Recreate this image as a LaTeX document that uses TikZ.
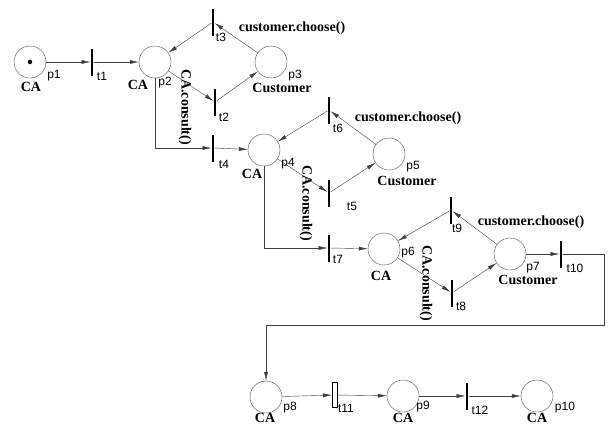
\documentclass[tikz,border=0pt]{standalone}
\usepackage{fontspec}
\setmainfont{Liberation Serif}
\newfontfamily\labfont{Liberation Sans}
\usetikzlibrary{arrows.meta}

\begin{document}
\begin{tikzpicture}[x=1pt,y=-1pt,
  place/.style={circle,draw=black!70,minimum size=32pt,inner sep=0pt},
  bar/.style={fill=black,minimum width=2.6pt,minimum height=27pt,inner sep=0pt},
  hbar/.style={draw,fill=white,line width=1pt,minimum width=5pt,minimum height=25pt,inner sep=0pt},
  arc/.style={draw=black!75,-{Latex[length=9pt,width=4pt]}},
  role/.style={font=\fontsize{14}{16}\selectfont\bfseries,inner sep=0pt},
  tag/.style={font=\labfont\fontsize{12}{14}\selectfont,inner sep=0pt}]
\useasboundingbox (0,0) rectangle (608,426);
\node[place] (p1) at (30,62) {};
\node[circle,fill,inner sep=1.6pt] (tok) at (p1) {};
\node[bar] (t1) at (92,62) {};
\node[place] (p2) at (155,62) {};
\node[bar] (t3) at (213,22) {};
\node[bar] (t2) at (215,102) {};
\node[place] (p3) at (271,62) {};
\node[bar] (t4) at (213,148) {};
\node[place] (p4) at (264,150) {};
\node[bar] (t6) at (329,110) {};
\node[bar] (t5) at (329,193) {};
\node[place] (p5) at (389,154) {};
\node[bar] (t7) at (329,248) {};
\node[place] (p6) at (384,249) {};
\node[bar] (t9) at (451,210) {};
\node[bar] (t8) at (452,293) {};
\node[place] (p7) at (510,254) {};
\node[bar] (t10) at (561,254) {};
\coordinate (turn) at (604,325);
\node[place] (p8) at (266,397) {};
\node[hbar] (t11) at (335,395) {};
\node[place] (p9) at (403,396) {};
\node[bar] (t12) at (467,396) {};
\node[place] (p10) at (537,396) {};

\draw[arc] (p1) -- (t1);
\draw[arc] (t1) -- (p2);
\draw[arc] (p2) -- (t2);
\draw[arc] (t2) -- (p3);
\draw[arc] (p3) -- (t3);
\draw[arc] (t3) -- (p2);
\draw[arc] (p2.south) |- (t4);
\draw[arc] (t4) -- (p4);
\draw[arc] (p4) -- (t5);
\draw[arc] (t5) -- (p5);
\draw[arc] (p5) -- (t6);
\draw[arc] (t6) -- (p4);
\draw[arc] (p4.south) |- (t7);
\draw[arc] (t7) -- (p6);
\draw[arc] (p6) -- (t8);
\draw[arc] (t8) -- (p7);
\draw[arc] (p7) -- (t9);
\draw[arc] (t9) -- (p6);
\draw[arc] (p7) -- (t10);
\draw[arc] (t10) -| (turn) -| (p8);
\draw[arc] (p8) -- (t11);
\draw[arc] (t11) -- (p9);
\draw[arc] (p9) -- (t12);
\draw[arc] (t12) -- (p10);

\node[role] (ca1) at (31,87) {CA};
\node[tag] (n1) at (54,76) {p1};
\node[tag] (m1) at (102,76) {t1};
\node[role] (ca2) at (138,85) {CA};
\node[tag] (n2) at (165,83) {p2};
\node[role,rotate=-90] (cs1) at (185,107) {CA.consult()};
\node[tag] (m2) at (224,117) {t2};
\node[tag] (m3) at (221,37) {t3};
\node[role] (ch1) at (292,28) {customer.choose()};
\node[tag] (n3) at (295,76) {p3};
\node[role] (cu1) at (282,88) {Customer};
\node[tag] (m4) at (224,164) {t4};
\node[role] (ca4) at (252,174) {CA};
\node[tag] (n4) at (288,164) {p4};
\node[role,rotate=-90] (cs2) at (306,203) {CA.consult()};
\node[tag] (m5) at (352,206) {t5};
\node[tag] (m6) at (338,128) {t6};
\node[role] (ch2) at (408,118) {customer.choose()};
\node[tag] (n5) at (413,167) {p5};
\node[role] (cu2) at (407,181) {Customer};
\node[tag] (m7) at (338,259) {t7};
\node[tag] (n6) at (408,253) {p6};
\node[role] (ca6) at (381,276) {CA};
\node[role,rotate=-90] (cs3) at (426,283) {CA.consult()};
\node[tag] (m8) at (461,306) {t8};
\node[tag] (m9) at (457,228) {t9};
\node[role] (ch3) at (531,222) {customer.choose()};
\node[tag] (n7) at (533,268) {p7};
\node[role] (cu3) at (528,280) {Customer};
\node[tag] (m10) at (575,268) {t10};
\node[role] (ca8) at (265,418) {CA};
\node[tag] (n8) at (290,408) {p8};
\node[tag] (m11) at (346,408) {t11};
\node[role] (ca9) at (403,418) {CA};
\node[tag] (n9) at (423,407) {p9};
\node[tag] (m12) at (480,410) {t12};
\node[role] (ca10) at (537,418) {CA};
\node[tag] (n10) at (565,408) {p10};
\end{tikzpicture}
\end{document}
